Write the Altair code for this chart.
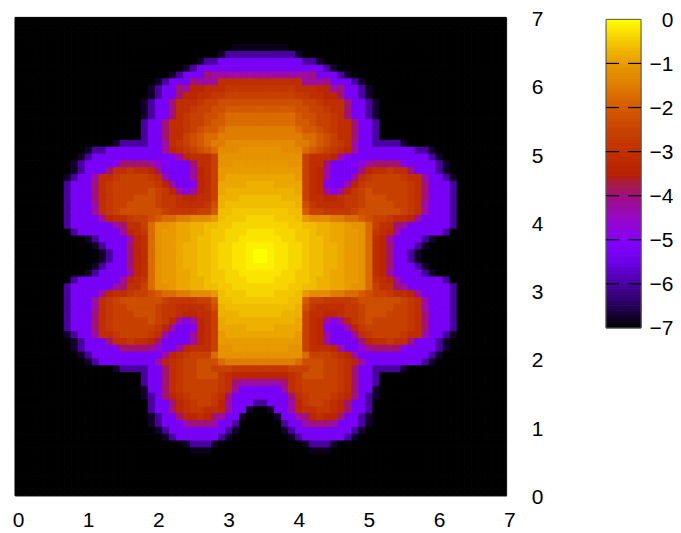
import altair as alt
import pandas as pd

alt.data_transformers.disable_max_rows()

LEVELS = {"a": 0, "0": -0.125, "b": -0.25, "1": -0.375, "c": -0.5, "2": -0.625, "d": -0.75, "3": -0.875,
          "e": -1, "4": -1.125, "f": -1.25, "5": -1.375, "g": -1.5, "6": -1.625, "h": -1.75, "7": -1.875,
          "i": -2, "j": -2.25, "k": -2.55, "l": -2.8, "m": -3.05, "n": -3.3, "o": -3.5, "p": -3.75, "q": -4,
          "r": -3.95, "s": -4.25, "t": -4.75, "u": -5, "v": -5.25, "w": -5.5, "x": -6.0, "y": -6, "z": -6.25,
          "A": -6.75, "B": -6.85, ".": -7}
stops = [-7, -6.5, -6, -5.5, -5.1, -4.5, -4, -3.7, -3.5, -3, -2.5, -2, -1.5, -1, -0.5, 0]
stop_colors = ["#000000", "#260058", "#4a00a0", "#6e00e8", "#8000ff", "#9a08c8", "#a01080", "#a81c40",
               "#b82000", "#c03000", "#c84200", "#d45a00", "#e07c00", "#e89a00", "#f4c800", "#ffff00"]
ticks_x = [0, 1, 2, 3, 4, 5, 6, 7]
ticks_bar = [0, -1, -2, -3, -4, -5, -6, -7]
bar_dashes = [-1, -2, -3, -4, -5, -6]

# left half of each row, top row first: (leading black cells, remaining cells)
rows = [
    (35, ""), (35, ""), (35, ""), (35, ""),
    (31, "BBBB"),
    (29, "A xxxxx"),
    (26, "A xx vvvvvv"),
    (24, "A x vvv vvvvvv"),
    (22, "A x vvv r sssssss"),
    (20, "A x vvv r s ss mmmmmm"),
    (19, "A x vv r s nnmmm lllll"),
    (19, "A x vv r n nmmll kkkkk"),
    (18, "A x vv r m mmlkkj jjjjj"),
    (18, "A x vv r m mlkkjj iiiii"),
    (18, "A x vv r m lkkjji hhhhh"),
    (18, "x vv r m mlkkjii hhhhh"),
    (18, "x vv r m mlkjiih ggggg"),
    (18, "x vv r m mkjihhg ggggg"),
    (14, "A xxxx vv s m lkjihgg fffff"),
    (10, "A xx vvvvvv vv s n m lkjih fff444"),
    (9, "A x vvvvvvvv vvv u s n mmm k 444444"),
    (8, "A x vvvv u rrrr stuvvv r mm k 44eeee"),
    (8, "A x vvv r mmlmm nr vvvv s n m k eeeeee"),
    (7, "A x vv s m mlkkkklm s vvv s n m k e33333"),
    (7, "x vvv r m lkkkkkkl n s vv u n m k 3333dd"),
    (7, "x vvv r m lkkkkkjk l n s u s n m k 3ddddd"),
    (7, "x vvv r m l kkkjjjk llmnnmm k ddd222"),
    (7, "x vvv s m l kkjjjjk llmmmml j d22222"),
    (7, "x vvv s m l kjjjjjj kllllkk i 22cccc"),
    (7, "x vvvv s n mmlkk j i hhggfff e 2ccc11"),
    (7, "x vvvvvv s r mmk h44e33dd22cc1111"),
    (8, "x vvvvvv s n m l h4ee33dd2cc111bb"),
    (10, "A x vvvv s n m h4ee33d22cc11bbb"),
    (11, "A x vvv r n m h4ee3dd22c11bb00"),
    (12, "A x vv r n m h4ee3dd22c11bb0a"),
    (12, "A x vv r n m h4ee3dd22c11bb0a"),
    (11, "A x vvv r n m h4ee3dd22c11bb00"),
    (10, "A x vvvv s n m h4ee33d22cc11bbb"),
    (8, "x vvvvvv s n m l h4ee33dd2cc111bb"),
    (7, "x vvvvvv s r mmk h44e33dd22cc1111"),
    (7, "x vvvv s n mmlkk j i hhggfff e 2ccc11"),
    (7, "x vvv s m l kjjjjjj kllllkk i 22cccc"),
    (7, "x vvv s m l kkjjjjk llmmmml j d22222"),
    (7, "x vvv r m l kkkjjjk llmnnmm k ddd222"),
    (7, "x vvv r m lkkkkkjk l n s u s n m k 3ddddd"),
    (7, "x vvv r m lkkkkkkl n s vv u n m k 3333dd"),
    (7, "A x vv s m mlkkkklm s vvv s n m k e33333"),
    (8, "A x vvv r mmlmm nr vvvv s n m k eeeeee"),
    (8, "A x vvvv u rrrr stvvsn mmm k 44eeee"),
    (9, "A x vvvvvvvv vvsn mlkkk h 444444"),
    (10, "A x vvvvvvv vsnm lkkjjj hggggg"),
    (14, "A xxxx vvrm lkkjjk kkllll"),
    (18, "x vv r m lkkjjj lm nnnn"),
    (18, "x vv r m lkkkkk lm r sss"),
    (18, "A vv r m lkkkkk lm s vvv"),
    (18, "A x v r n m lkkkl m r vvvv"),
    (19, "x vv r n mlkkl n s vvv x"),
    (19, "x vv r n mllmm n s vv A ."),
    (19, "A x vv r n nmn r s vv A .."),
    (19, "A x vvv s rrr s vv x ..."),
    (20, "A x vvvvvvvv x A ..."),
    (21, "A x vvvvvv x A ...."),
    (24, "A xxx A ......"),
    (25, "BBB ......."),
    (35, ""), (35, ""), (35, ""), (35, ""), (35, ""), (35, ""),
]

cell = 0.1
records = []
for r, (lead, tail) in enumerate(rows):
    half = ("." * lead + tail.replace(" ", "")).ljust(35, ".")[:35]
    full = half + half[::-1]
    y_top = 7 - r * cell
    for c, ch in enumerate(full):
        records.append({"x0": c * cell, "x1": (c + 1) * cell,
                        "y0": y_top - cell, "y1": y_top,
                        "v": LEVELS[ch]})
df = pd.DataFrame(records)

color_scale = alt.Scale(domain=stops, range=stop_colors, interpolate="rgb", clamp=True)
FONT = "Liberation Sans"
SIZE = 21

main = (
    alt.Chart(df)
    .mark_rect(strokeWidth=1)
    .encode(
        x=alt.X("x0:Q", scale=alt.Scale(domain=[0, 7], nice=False),
                axis=alt.Axis(values=ticks_x, title=None, grid=False, domain=False, ticks=False,
                              labelFont=FONT, labelFontSize=SIZE, labelColor="#000", labelPadding=14,
                              labelOffset=3, labelFlush=False, labelOverlap=False, format="d")),
        x2="x1:Q",
        y=alt.Y("y0:Q", scale=alt.Scale(domain=[0, 7], nice=False),
                axis=alt.Axis(values=ticks_x, title=None, grid=False, domain=False, ticks=False, orient="right",
                              labelFont=FONT, labelFontSize=SIZE, labelColor="#000", labelPadding=25,
                              labelOffset=2, labelFlush=False, labelOverlap=False, format="d")),
        y2="y1:Q",
        color=alt.Color("v:Q", scale=color_scale, legend=None),
        stroke=alt.Color("v:Q", scale=color_scale, legend=None),
    )
    .properties(width=492, height=479)
)

strip_vals = [i / 20 for i in range(-140, 0)]
strip = pd.DataFrame({"a": [0.0] * 140, "b": [1.0] * 140, "lo": strip_vals,
                      "hi": [v + 0.05 for v in strip_vals], "v": [v + 0.025 for v in strip_vals]})
bar_x = alt.Scale(domain=[0, 1], nice=False)
bar_y = alt.Scale(domain=[-7, 0.045], nice=False)
bar_axis = alt.Axis(values=ticks_bar, title=None, grid=False, domain=False, ticks=False, orient="right",
                    labelFont=FONT, labelFontSize=SIZE, labelColor="#000", labelAlign="right",
                    labelPadding=32, labelOffset=1, labelFlush=False, labelOverlap=False, format="d")
strips = alt.Chart(strip).mark_rect(strokeWidth=1).encode(
    x=alt.X("a:Q", scale=bar_x, axis=None),
    x2="b:Q",
    y=alt.Y("lo:Q", scale=bar_y, axis=bar_axis),
    y2="hi:Q",
    color=alt.Color("v:Q", scale=color_scale, legend=None),
    stroke=alt.Color("v:Q", scale=color_scale, legend=None),
)
frame = alt.Chart(pd.DataFrame({"a": [0.0], "b": [1.0], "lo": [-7.0], "hi": [0.0]})).mark_rect(
    fillOpacity=0, stroke="#555", strokeWidth=1
).encode(x=alt.X("a:Q", scale=bar_x, axis=None), x2="b:Q",
         y=alt.Y("lo:Q", scale=bar_y, axis=bar_axis), y2="hi:Q")
dash = pd.DataFrame({"t": bar_dashes * 2,
                     "a": [0.0] * 6 + [0.63] * 6,
                     "b": [0.37] * 6 + [1.0] * 6})
dashes = alt.Chart(dash).mark_rule(color="#000", strokeWidth=1.2).encode(
    x=alt.X("a:Q", scale=bar_x, axis=None), x2="b:Q",
    y=alt.Y("t:Q", scale=bar_y, axis=bar_axis))
bar = alt.layer(strips, frame, dashes).properties(width=35, height=311, view=alt.ViewConfig(stroke=None))

chart = (
    alt.hconcat(main, bar, spacing=61)
    .resolve_scale(color="independent", x="independent", y="independent")
    .properties(padding={"left": 3, "top": -1, "right": 0, "bottom": 0}, background="white")
    .configure_view(stroke="#777", strokeWidth=1)
)
chart.save("out.html", embed_options={"renderer": "svg", "actions": False})
